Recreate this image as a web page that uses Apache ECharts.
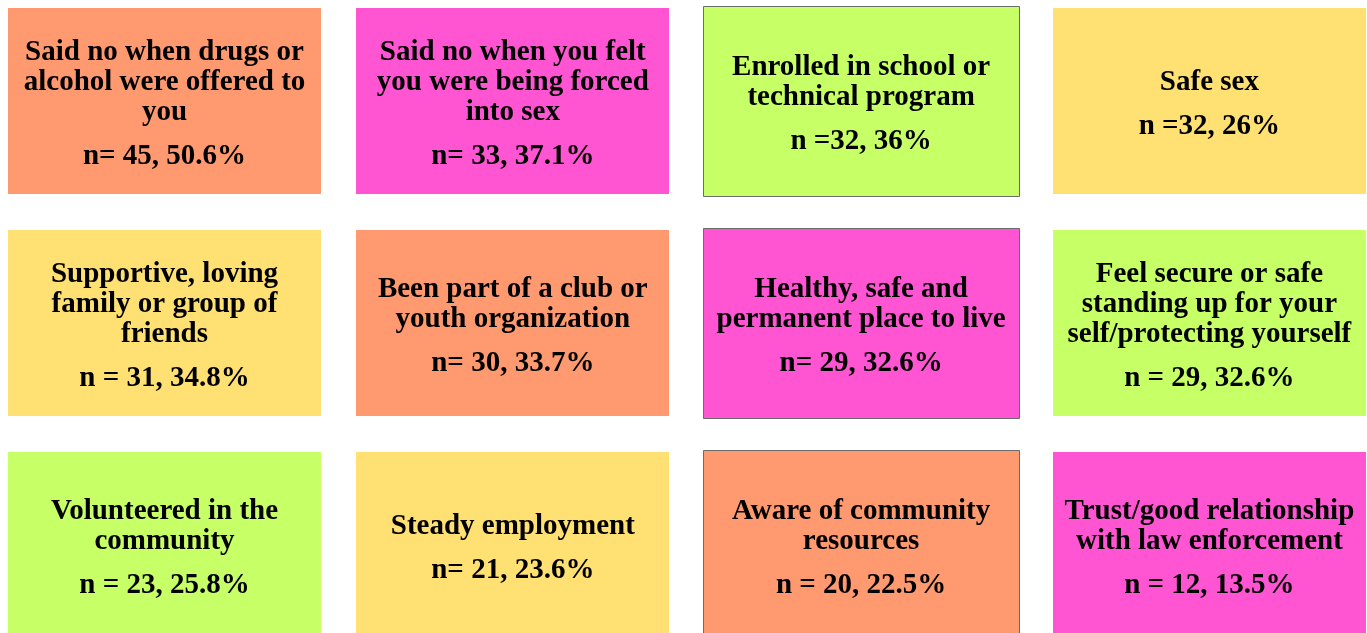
<!DOCTYPE html>
<html>
<head>
<meta charset="utf-8">
<script src="https://cdn.jsdelivr.net/npm/echarts@6/dist/echarts.min.js"></script>
<style>
html, body { margin: 0; padding: 0; background: #fff; }
#main { width: 1367px; height: 633px; }
</style>
</head>
<body>
<div id="main"></div>
<script>
// box texts, read left to right, top to bottom
const titles = [
    'Said no when drugs or\nalcohol were offered to\nyou',
    'Said no when you felt\nyou were being forced\ninto sex',
    'Enrolled in school or\ntechnical program',
    'Safe sex',
    'Supportive, loving\nfamily or group of\nfriends',
    'Been part of a club or\nyouth organization',
    'Healthy, safe and\npermanent place to live',
    'Feel secure or safe\nstanding up for your\nself/protecting yourself',
    'Volunteered in the\ncommunity',
    'Steady employment',
    'Aware of community\nresources',
    'Trust/good relationship\nwith law enforcement'
];
const prefixes = ['n= ', 'n= ', 'n =', 'n =', 'n = ', 'n= ', 'n= ', 'n = ', 'n = ', 'n= ', 'n = ', 'n = '];
const counts = [45, 33, 32, 32, 31, 30, 29, 29, 23, 21, 20, 12];
const percents = [50.6, 37.1, 36, 26, 34.8, 33.7, 32.6, 32.6, 25.8, 23.6, 22.5, 13.5];

const palette = ['#FF996F', '#FF55D3', '#C6FF66', '#FFE072'];
const columns = 4;

const cells = titles.map((t, i) => [i % columns, Math.floor(i / columns), i]);

function boxText(i) {
    const lines = titles[i].split('\n').map(l => '{t|' + l + '}');
    return lines.join('\n') + '\n{g| }\n{n|' + prefixes[i] + counts[i] + ', ' + percents[i] + '%}';
}

const chart = echarts.init(document.getElementById('main'));

const option = {
    animation: false,
    grid: { left: 0, right: 0, top: 0, bottom: 0 },
    // axis ranges chosen so one unit = one cell pitch (348.3 x 222 px)
    xAxis: { type: 'value', min: -0.4723, max: 3.4525, show: false },
    yAxis: { type: 'value', min: -0.455, max: 2.3964, inverse: true, show: false },
    series: [{
        type: 'custom',
        clip: false,
        data: cells,
        renderItem(params, api) {
            const col = api.value(0);
            const row = api.value(1);
            const i = api.value(2);
            const c = api.coord([col, row]);
            const s = api.size([1, 1]);
            const framed = col === 2;   // third column has a grey frame
            const w = framed ? s[0] - 32 : s[0] - 35;
            const h = framed ? s[1] - 32 : s[1] - 36;
            const x = Math.round(c[0] - w / 2) + (framed ? 0.5 : 0);
            const y = Math.round(c[1] - h / 2) + (framed ? 0.5 : 0);
            return {
                type: 'group',
                children: [
                    {
                        type: 'rect',
                        shape: { x: x, y: y, width: Math.round(w), height: Math.round(h) },
                        style: {
                            fill: palette[(col - row + 4) % 4],
                            stroke: framed ? '#6b6b6b' : null,
                            lineWidth: framed ? 1 : 0
                        }
                    },
                    {
                        type: 'text',
                        x: c[0],
                        y: c[1] + 4,
                        style: {
                            text: boxText(i),
                            align: 'center',
                            verticalAlign: 'middle',
                            fill: '#000',
                            font: 'bold 29px "Liberation Serif"',
                            rich: {
                                t: { fontFamily: 'Liberation Serif', fontWeight: 'bold', fontSize: 29, lineHeight: 30, align: 'center' },
                                g: { fontSize: 10, lineHeight: 14, align: 'center' },
                                n: { fontFamily: 'Liberation Serif', fontWeight: 'bold', fontSize: 29, lineHeight: 30, align: 'center' }
                            }
                        }
                    }
                ]
            };
        }
    }]
};

chart.setOption(option);
</script>
</body>
</html>
